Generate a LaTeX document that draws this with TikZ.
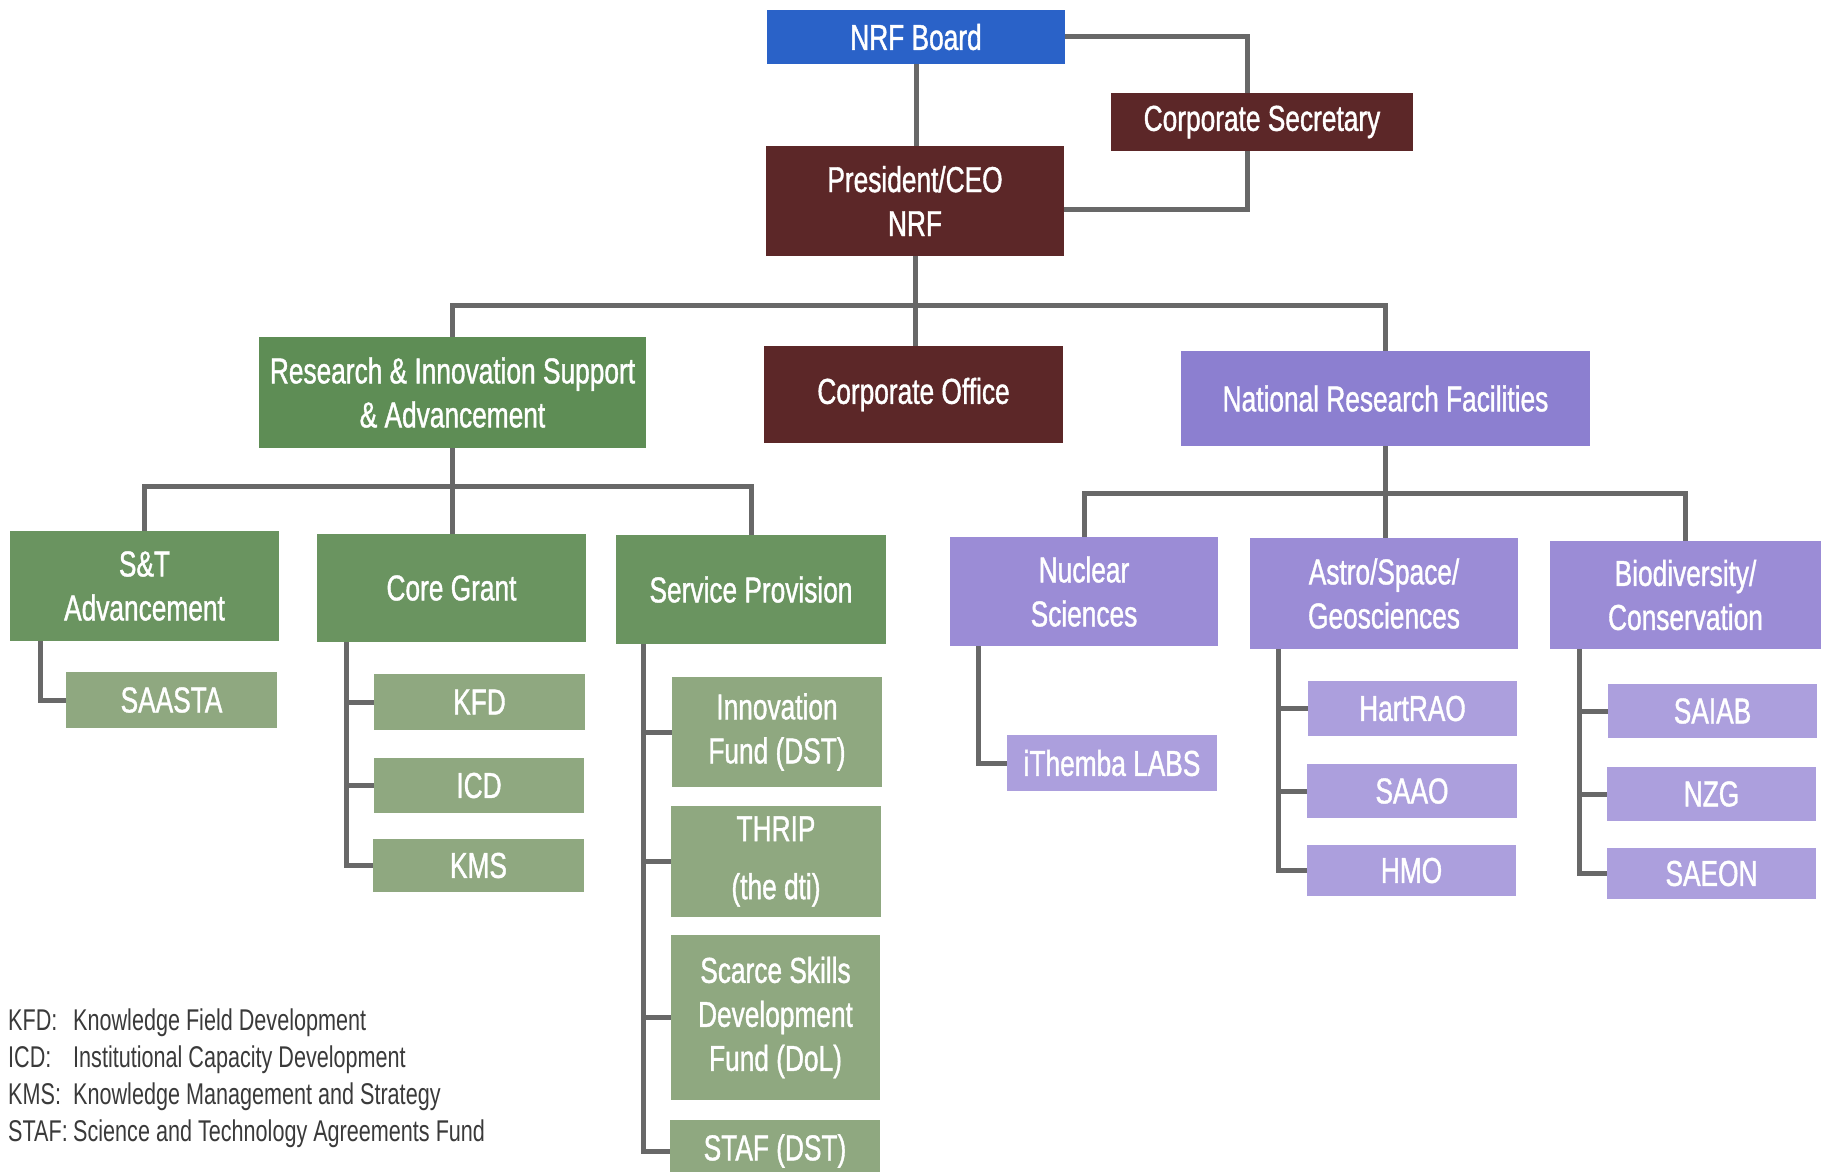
\documentclass[tikz,border=0pt]{standalone}
\usepackage{fontspec}
\setmainfont{Liberation Sans}[FakeStretch=0.73]
\newfontfamily\boxfont{Liberation Sans}[FakeStretch=0.73,FakeBold=1.1]
\newfontfamily\legfont{Liberation Sans}[FakeStretch=0.72]
\definecolor{cblue}{HTML}{2A62C8}
\definecolor{cmaroon}{HTML}{5C2728}
\definecolor{cgreenA}{HTML}{5E8D55}
\definecolor{cgreenB}{HTML}{6A9460}
\definecolor{cgreenC}{HTML}{8FA880}
\definecolor{cpurpA}{HTML}{8C7FD0}
\definecolor{cpurpB}{HTML}{9B8CD6}
\definecolor{cpurpC}{HTML}{AC9FDD}
\definecolor{cline}{HTML}{686868}
\definecolor{clegend}{HTML}{3A3A3A}
\begin{document}
\begin{tikzpicture}[x=1pt,y=-1pt,
  box/.style={draw=none, fill=#1, text=white, align=center, inner sep=0pt,
    font=\boxfont\fontsize{36}{44}\selectfont},
  conn/.style={draw=cline, line width=5pt, line join=miter},
  legend/.style={text=clegend, inner sep=0pt, anchor=base west,
    font=\legfont\fontsize{30}{36}\selectfont}]
\useasboundingbox[fill=white] (0,0) rectangle (1823,1172);

% top
\node[box=cblue, minimum width=298pt, minimum height=54pt] (board) at (916,37) {NRF Board};
\node[box=cmaroon, minimum width=302pt, minimum height=58pt] (sec) at (1262,122) {Corporate Secretary};
\node[box=cmaroon, minimum width=298pt, minimum height=110pt] (ceo) at (915,201) {President/CEO\\NRF};

% level 2
\node[box=cgreenA, minimum width=387pt, minimum height=111pt] (risa) at (452.5,392.5) {Research \& Innovation Support\\\& Advancement};
\node[box=cmaroon, minimum width=299pt, minimum height=97pt] (corp) at (913.5,394.5) {Corporate Office};
\node[box=cpurpA, minimum width=409pt, minimum height=95pt] (nrf) at (1385.5,398.5) {National Research Facilities};

% level 3 green
\node[box=cgreenB, minimum width=269pt, minimum height=110pt] (st) at (144.5,586) {S\&T\\Advancement};
\node[box=cgreenB, minimum width=269pt, minimum height=108pt] (core) at (451.5,588) {Core Grant};
\node[box=cgreenB, minimum width=270pt, minimum height=109pt] (serv) at (751,589.5) {Service Provision};

% level 4 green
\node[box=cgreenC, minimum width=211pt, minimum height=56pt] (saasta) at (171.5,700) {SAASTA};
\node[box=cgreenC, minimum width=211pt, minimum height=56pt] (kfd) at (479.5,702) {KFD};
\node[box=cgreenC, minimum width=210pt, minimum height=55pt] (icd) at (479,785.5) {ICD};
\node[box=cgreenC, minimum width=211pt, minimum height=53pt] (kms) at (478.5,865.5) {KMS};
\node[box=cgreenC, minimum width=210pt, minimum height=110pt] (innov) at (777,732) {Innovation\\Fund (DST)};
\node[box=cgreenC, minimum width=210pt, minimum height=111pt] (thrip) at (776,861.5) {THRIP\\[14pt](the dti)};
\node[box=cgreenC, minimum width=209pt, minimum height=165pt] (scarce) at (775.5,1017.5) {Scarce Skills\\Development\\Fund (DoL)};
\node[box=cgreenC, minimum width=210pt, minimum height=62pt] (staf) at (775,1151) {STAF (DST)};

% level 3 purple
\node[box=cpurpB, minimum width=268pt, minimum height=109pt] (nuc) at (1084,591.5) {Nuclear\\Sciences};
\node[box=cpurpB, minimum width=268pt, minimum height=111pt] (astro) at (1384,593.5) {Astro/Space/\\Geosciences};
\node[box=cpurpB, minimum width=271pt, minimum height=108pt] (bio) at (1685.5,595) {Biodiversity/\\Conservation};

% level 4 purple
\node[box=cpurpC, minimum width=210pt, minimum height=56pt] (ithemba) at (1112,763) {iThemba LABS};
\node[box=cpurpC, minimum width=209pt, minimum height=55pt] (hart) at (1412.5,708.5) {HartRAO};
\node[box=cpurpC, minimum width=210pt, minimum height=54pt] (saao) at (1412,791) {SAAO};
\node[box=cpurpC, minimum width=209pt, minimum height=51pt] (hmo) at (1411.5,870.5) {HMO};
\node[box=cpurpC, minimum width=209pt, minimum height=54pt] (saiab) at (1712.5,711) {SAIAB};
\node[box=cpurpC, minimum width=209pt, minimum height=54pt] (nzg) at (1711.5,794) {NZG};
\node[box=cpurpC, minimum width=209pt, minimum height=51pt] (saeon) at (1711.5,873.5) {SAEON};

% helper coordinates
\coordinate (b1) at (915,305);
\coordinate (b2) at (452,486);
\coordinate (b3) at (1386,493);
\coordinate (sx) at (1247,0);
\coordinate (stx) at (40,0);
\coordinate (cgx) at (346,0);
\coordinate (svx) at (643,0);
\coordinate (nux) at (978,0);
\coordinate (asx) at (1278,0);
\coordinate (bix) at (1579,0);

% connectors
\draw[conn] (board.south) -- (board.south |- ceo.north);
\draw[conn] (board.east) -| (sx |- sec.north);
\draw[conn] (sx |- sec.south) |- ([yshift=-8pt]ceo.east);
\draw[conn] (ceo.south) -- (ceo.south |- corp.north);
\draw[conn] (risa.north) |- (b1) -| (nrf.north);

\draw[conn] (risa.south) -- (risa.south |- core.north);
\draw[conn] (st.north) |- (b2) -| (serv.north);
\draw[conn] (stx |- st.south) |- (saasta.west);
\draw[conn] (cgx |- core.south) |- (kms.west);
\draw[conn] (cgx |- kfd.west) -- (kfd.west);
\draw[conn] (cgx |- icd.west) -- (icd.west);
\draw[conn] (svx |- serv.south) |- (staf.west);
\draw[conn] (svx |- innov.west) -- (innov.west);
\draw[conn] (svx |- thrip.west) -- (thrip.west);
\draw[conn] (svx |- scarce.west) -- (scarce.west);

\draw[conn] (nrf.south) -- (nrf.south |- astro.north);
\draw[conn] (nuc.north) |- (b3) -| (bio.north);
\draw[conn] (nux |- nuc.south) |- (ithemba.west);
\draw[conn] (asx |- astro.south) |- (hmo.west);
\draw[conn] (asx |- hart.west) -- (hart.west);
\draw[conn] (asx |- saao.west) -- (saao.west);
\draw[conn] (bix |- bio.south) |- (saeon.west);
\draw[conn] (bix |- saiab.west) -- (saiab.west);
\draw[conn] (bix |- nzg.west) -- (nzg.west);

% legend
\node[legend] (l1a) at (8,1030) {KFD:};
\node[legend] (l1b) at (73,1030) {Knowledge Field Development};
\node[legend] (l2a) at (8,1067) {ICD:};
\node[legend] (l2b) at (73,1067) {Institutional Capacity Development};
\node[legend] (l3a) at (8,1104) {KMS:};
\node[legend] (l3b) at (73,1104) {Knowledge Management and Strategy};
\node[legend] (l4a) at (8,1141) {STAF:};
\node[legend] (l4b) at (73,1141) {Science and Technology Agreements Fund};
\end{tikzpicture}
\end{document}
